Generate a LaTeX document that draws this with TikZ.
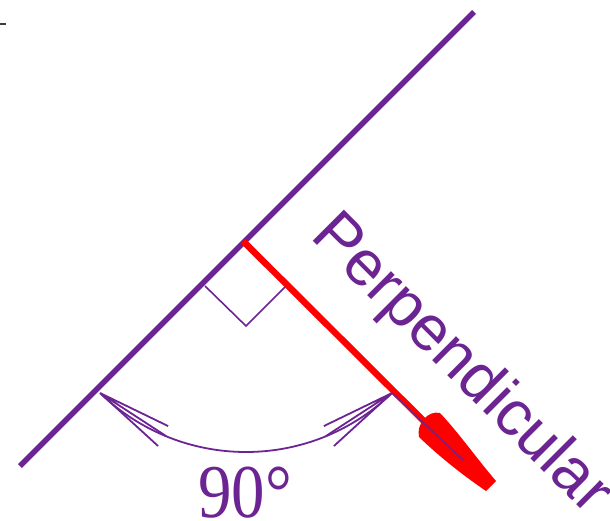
\documentclass[tikz,border=0pt]{standalone}
\usepackage{fontspec}
\setmainfont{Liberation Serif}
\newfontfamily\labelsans{Liberation Sans}
\usetikzlibrary{calc}
\definecolor{lilac}{RGB}{108,36,146}
\definecolor{tickgray}{RGB}{60,60,60}
\definecolor{vecred}{RGB}{255,0,0}
\begin{document}
\begin{tikzpicture}[x=1pt,y=-1pt,
  mainline/.style={draw=lilac,line width=5.5pt},
  thinlilac/.style={draw=lilac,line width=1.8pt},
  vecline/.style={draw=vecred,line width=6.5pt},
  lbl/.style={text=lilac,inner sep=0pt,outer sep=0pt}]
\useasboundingbox (0,0) rectangle (610,520);
% tiny tick at top left
\coordinate (k1) at (0,24);
\coordinate (k2) at (6,24);
\draw[tickgray,line width=2pt] (k1) -- (k2);
% main line
\coordinate (A) at (20,466);
\coordinate (B) at (474,12);
\draw[mainline] (A) -- (B);
% perpendicular vector
\coordinate (F) at (243,241);
\coordinate (E) at (484,481);
\draw[vecline] (F) -- (E);
% arrow head
\coordinate (h1) at (440,413);
\coordinate (h2) at (419,437);
\coordinate (h3) at (486,491);
\coordinate (h4) at (496,481);
\fill[vecred] (h1) .. controls (428,410) and (416,424) .. (h2)
  .. controls (445,462) and (470,480) .. (h3) -- (h4)
  .. controls (478,460) and (458,432) .. cycle;
% right angle mark
\coordinate (M1) at (205,286);
\coordinate (M2) at (246,326);
\coordinate (M3) at (285,287);
\draw[thinlilac,line width=1.6pt] (M1) -- (M2) -- (M3);
% angle arc
\coordinate (O) at (246,242);
\coordinate (L) at ($(O)+(134:210)$);
\coordinate (R) at ($(O)+(46:210)$);
\draw[thinlilac] (L) arc[start angle=134,end angle=46,radius=210];
% fans at arc ends
\coordinate (La) at ($(L)+(68,33)$);
\coordinate (Lb) at ($(L)+(66,43)$);
\coordinate (Lc) at ($(L)+(58,53)$);
\coordinate (Ra) at ($(R)+(-68,33)$);
\coordinate (Rb) at ($(R)+(-66,43)$);
\coordinate (Rc) at ($(R)+(-58,53)$);
\draw[thinlilac] (L) -- (La) (L) -- (Lb) (L) -- (Lc);
\draw[thinlilac] (R) -- (Ra) (R) -- (Rb) (R) -- (Rc);
\coordinate (P) at (463,460);
\draw[thinlilac,line width=1.5pt] (R) -- (P);
% labels
\node[lbl,anchor=base,xscale=0.88] (deg) at (245,517) {\fontsize{76}{76}\selectfont 90°};
\node[lbl,anchor=base west,rotate=-45] (perp) at (309,237) {\labelsans\fontsize{64}{64}\selectfont Perpendicular};
\end{tikzpicture}
\end{document}
